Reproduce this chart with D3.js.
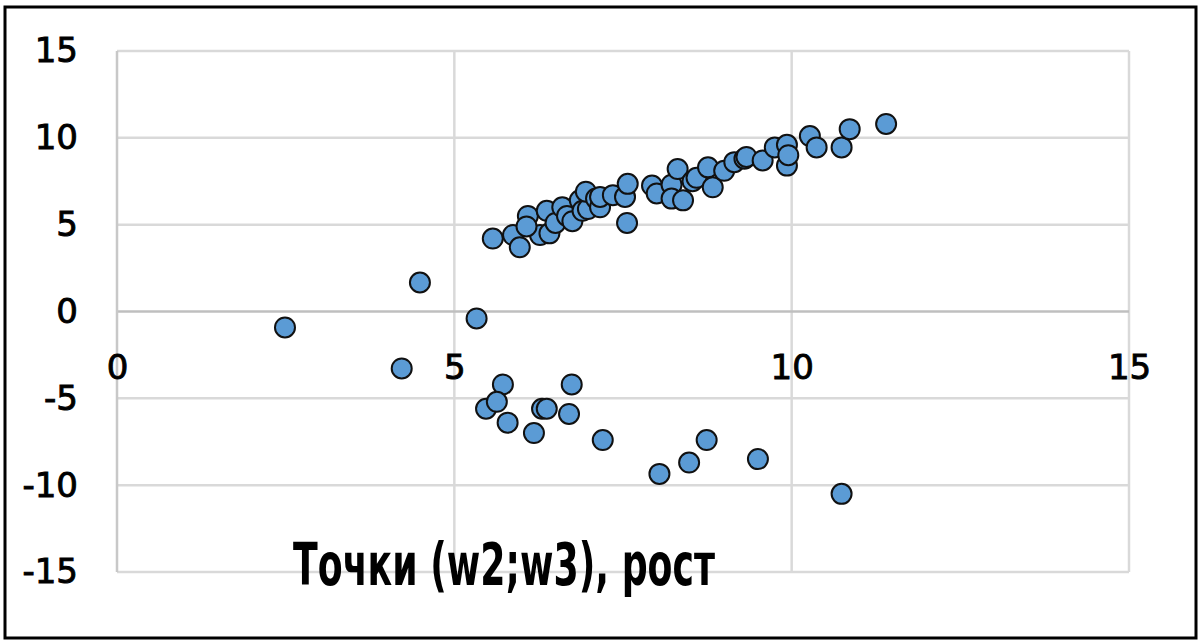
<!DOCTYPE html>
<html>
<head>
<meta charset="utf-8">
<script src="https://cdn.jsdelivr.net/npm/d3@7"></script>
<style>
  html, body { margin: 0; padding: 0; background: #fff; }
  svg { display: block; }
</style>
</head>
<body>
<div id="chart"></div>
<script>
// Data: w2 (x) and w3 (y)
const w2 = [
  2.49, 4.49, 4.22, 5.33,
  5.72, 5.47, 5.63, 5.79, 6.18, 6.30, 6.37, 6.74, 6.70, 7.20, 8.04, 8.48, 8.74, 9.50, 10.74,
  5.57, 5.87, 5.97, 6.09, 6.27, 6.37, 6.41, 6.07, 6.50, 6.60, 6.67, 6.75, 6.86, 6.90, 6.98, 6.95,
  7.10, 7.16, 7.16, 7.35, 7.53, 7.56, 7.57, 7.93, 8.00, 8.22, 8.22, 8.31, 8.39, 8.53, 8.59, 8.76,
  8.83, 9.00, 9.15, 9.30, 9.33, 9.57, 9.75, 9.93, 9.93, 9.95, 10.27, 10.37, 10.74, 10.86, 11.40
];
const w3 = [
  -0.92, 1.67, -3.28, -0.40,
  -4.2, -5.6, -5.2, -6.4, -7.0, -5.6, -5.6, -4.2, -5.9, -7.4, -9.35, -8.7, -7.4, -8.5, -10.5,
  4.2, 4.4, 3.7, 5.5, 4.4, 5.8, 4.5, 4.9, 5.1, 6.0, 5.5, 5.2, 6.4, 5.8, 5.9, 6.9,
  6.5, 6.0, 6.6, 6.7, 6.6, 5.1, 7.35, 7.25, 6.8, 7.3, 6.5, 8.2, 6.4, 7.5, 7.7, 8.3,
  7.15, 8.1, 8.6, 8.8, 8.9, 8.7, 9.45, 9.6, 8.4, 9.0, 10.1, 9.45, 9.45, 10.5, 10.8
];
const xTicks = [0, 5, 10, 15];
const yTicks = [-15, -10, -5, 0, 5, 10, 15];
const title = "Точки (w2;w3), рост";

const W = 1199, H = 640;
const svg = d3.select("#chart").append("svg").attr("width", W).attr("height", H);

const x = d3.scaleLinear().domain([0, 15]).range([117, 1129]);
const y = d3.scaleLinear().domain([-15, 15]).range([572, 51]);

// Gridlines
svg.append("g").selectAll("line").data(yTicks.filter(d => d !== 0)).enter().append("line")
  .attr("x1", x(0)).attr("x2", x(15)).attr("y1", d => y(d)).attr("y2", d => y(d))
  .attr("stroke", "#d9d9d9").attr("stroke-width", 2.5);
svg.append("g").selectAll("line").data(xTicks.filter(d => d !== 0)).enter().append("line")
  .attr("x1", d => x(d)).attr("x2", d => x(d)).attr("y1", y(15)).attr("y2", y(-15))
  .attr("stroke", "#d9d9d9").attr("stroke-width", 2.5);

// Axis lines (cross at 0)
svg.append("line").attr("x1", x(0)).attr("x2", x(15)).attr("y1", y(0)).attr("y2", y(0))
  .attr("stroke", "#bfbfbf").attr("stroke-width", 2.5);
svg.append("line").attr("x1", x(0)).attr("x2", x(0)).attr("y1", y(15)).attr("y2", y(-15))
  .attr("stroke", "#c8c8c8").attr("stroke-width", 2.5);

// Tick labels
const yAxis = svg.append("g").attr("transform", `translate(${x(0)},0)`)
  .call(d3.axisLeft(y).tickValues(yTicks).tickSize(0).tickPadding(39).tickFormat(d3.format("d")));
const xAxis = svg.append("g").attr("transform", `translate(0,${y(0)})`)
  .call(d3.axisBottom(x).tickValues(xTicks).tickSize(0).tickPadding(43).tickFormat(d3.format("d")));
[yAxis, xAxis].forEach(a => {
  a.select(".domain").remove();
  a.selectAll("text").attr("font-family", "'DejaVu Sans', sans-serif").attr("font-size", 34)
    .attr("fill", "#000").attr("stroke", "#000").attr("stroke-width", 0.9);
});
yAxis.selectAll("text").text(d => d < 0 ? "-" + Math.abs(d) : d);

// Points
svg.append("g").selectAll("circle").data(w2.map((d, i) => [d, w3[i]])).enter().append("circle")
  .attr("cx", d => x(d[0])).attr("cy", d => y(d[1])).attr("r", 10)
  .attr("fill", "#5b9bd5").attr("stroke", "#111").attr("stroke-width", 2);

// Title
svg.append("text").attr("x", 293).attr("y", 585)
  .attr("font-family", "'Liberation Sans Narrow', 'DejaVu Sans Condensed', sans-serif")
  .attr("font-weight", "bold").attr("font-size", 58)
  .attr("textLength", 422).attr("lengthAdjust", "spacingAndGlyphs")
  .attr("fill", "#000").text(title);

// Outer border
svg.append("rect").attr("x", 5).attr("y", 7).attr("width", 1191).attr("height", 631)
  .attr("fill", "none").attr("stroke", "#000").attr("stroke-width", 3);
</script>
</body>
</html>
